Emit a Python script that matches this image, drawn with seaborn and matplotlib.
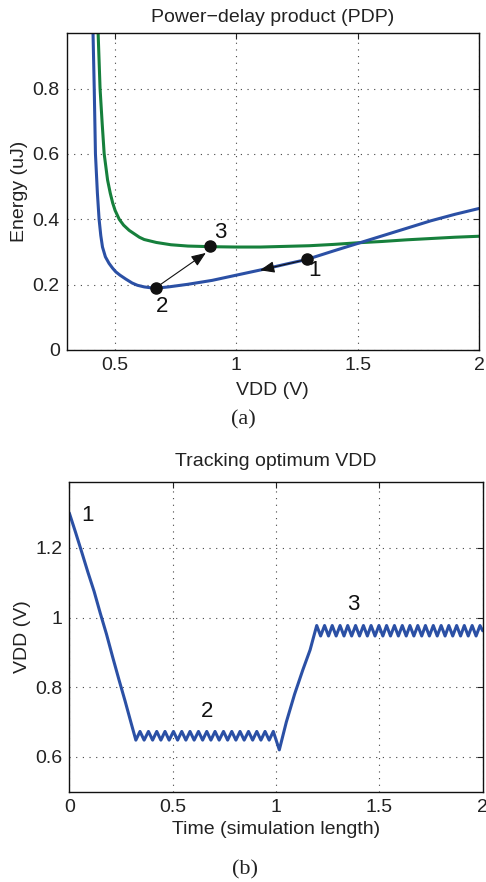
import matplotlib
matplotlib.use("Agg")
import matplotlib.pyplot as plt
import pandas as pd
import seaborn as sns

# ---- (a) power-delay product curves ----
vdd_blue = [0.409, 0.414, 0.419, 0.427, 0.434, 0.441, 0.448, 0.460, 0.475, 0.490,
            0.503, 0.520, 0.544, 0.570, 0.592, 0.620, 0.650, 0.680, 0.720, 0.800,
            0.900, 1.000, 1.100, 1.200, 1.290, 1.400, 1.500, 1.600, 1.700, 1.800,
            1.900, 2.000]
pdp_blue = [0.970, 0.800, 0.600, 0.480, 0.400, 0.350, 0.315, 0.285, 0.265, 0.250,
            0.239, 0.229, 0.217, 0.205, 0.198, 0.193, 0.190, 0.190, 0.193, 0.201,
            0.213, 0.229, 0.245, 0.262, 0.277, 0.303, 0.326, 0.349, 0.372, 0.395,
            0.415, 0.433]

vdd_green = [0.430, 0.438, 0.447, 0.455, 0.469, 0.480, 0.490, 0.500, 0.517, 0.535,
             0.558, 0.578, 0.600, 0.620, 0.670, 0.730, 0.800, 0.900, 1.000, 1.100,
             1.200, 1.300, 1.400, 1.500, 1.600, 1.700, 1.800, 1.900, 2.000]
pdp_green = [0.970, 0.800, 0.690, 0.600, 0.520, 0.480, 0.450, 0.427, 0.400, 0.382,
             0.366, 0.356, 0.345, 0.338, 0.329, 0.322, 0.318, 0.316, 0.315, 0.315,
             0.317, 0.319, 0.323, 0.328, 0.332, 0.337, 0.341, 0.345, 0.348]

pt_labels = ["1", "2", "3"]
pt_vdd = [1.290, 0.667, 0.891]
pt_pdp = [0.277, 0.190, 0.318]

# ---- (b) tracking VDD over time ----
time_b = [0.000, 0.030, 0.060, 0.090, 0.120, 0.150, 0.180, 0.210, 0.240, 0.270, 0.300,
          0.322, 0.342, 0.362, 0.383, 0.403, 0.423, 0.443, 0.463, 0.483, 0.504, 0.524,
          0.544, 0.564, 0.584, 0.604, 0.625, 0.645, 0.665, 0.685, 0.705, 0.725, 0.746,
          0.766, 0.786, 0.806, 0.826, 0.846, 0.867, 0.887, 0.907, 0.927, 0.947, 0.967,
          0.987, 1.016, 1.050, 1.090, 1.130, 1.165, 1.180,
          1.197, 1.216, 1.235, 1.254, 1.272, 1.291, 1.310, 1.329, 1.347, 1.366, 1.385,
          1.404, 1.423, 1.442, 1.460, 1.479, 1.498, 1.517, 1.535, 1.554, 1.573, 1.592,
          1.611, 1.630, 1.648, 1.667, 1.686, 1.705, 1.723, 1.742, 1.761, 1.780, 1.799,
          1.818, 1.836, 1.855, 1.874, 1.893, 1.911, 1.930, 1.949, 1.968, 1.987, 2.000]
vdd_b = [1.300, 1.245, 1.188, 1.130, 1.075, 1.012, 0.952, 0.886, 0.822, 0.760, 0.695,
         0.648, 0.673, 0.648, 0.673, 0.648, 0.673, 0.648, 0.673, 0.648, 0.673, 0.648,
         0.673, 0.648, 0.673, 0.648, 0.673, 0.648, 0.673, 0.648, 0.673, 0.648, 0.673,
         0.648, 0.673, 0.648, 0.673, 0.648, 0.673, 0.648, 0.673, 0.648, 0.673, 0.648,
         0.673, 0.620, 0.700, 0.780, 0.850, 0.907, 0.940,
         0.977, 0.947, 0.977, 0.947, 0.977, 0.947, 0.977, 0.947, 0.977, 0.947, 0.977,
         0.947, 0.977, 0.947, 0.977, 0.947, 0.977, 0.947, 0.977, 0.947, 0.977, 0.947,
         0.977, 0.947, 0.977, 0.947, 0.977, 0.947, 0.977, 0.947, 0.977, 0.947, 0.977,
         0.947, 0.977, 0.947, 0.977, 0.947, 0.977, 0.947, 0.977, 0.947, 0.977, 0.962]

b_labels = ["1", "2", "3"]
b_time = [0.087, 0.668, 1.374]
b_vdd = [1.294, 0.731, 1.038]

BLUE = "#2b50a5"
GREEN = "#16803c"

sns.set_style("white")
plt.rcParams["font.family"] = ["Liberation Sans", "DejaVu Sans"]
plt.rcParams["axes.unicode_minus"] = True

fig = plt.figure(figsize=(4.86, 8.82), dpi=100)
ax1 = fig.add_axes([0.137, 0.6032, 0.8486, 0.3594])
ax2 = fig.add_axes([0.1426, 0.1024, 0.8506, 0.3515])

df_blue = pd.DataFrame({"vdd": vdd_blue, "pdp": pdp_blue})
df_green = pd.DataFrame({"vdd": vdd_green, "pdp": pdp_green})
sns.lineplot(data=df_green, x="vdd", y="pdp", ax=ax1, color=GREEN, lw=2.2,
             estimator=None, sort=False)
sns.lineplot(data=df_blue, x="vdd", y="pdp", ax=ax1, color=BLUE, lw=2.2,
             estimator=None, sort=False)
ax1.plot(pt_vdd, pt_pdp, "o", color="#111111", ms=8, zorder=5)

# arrows 1 -> (down the blue curve) and 2 -> 3
arrow_kw = dict(arrowstyle="-|>,head_length=0.55,head_width=0.22", color="#111111",
                lw=0.8, mutation_scale=16, shrinkA=0, shrinkB=0)
ax1.annotate("", xy=(1.097, 0.244), xytext=(pt_vdd[0], pt_pdp[0]),
             arrowprops=arrow_kw, zorder=6)
ax1.annotate("", xy=(0.874, 0.297), xytext=(pt_vdd[1], pt_pdp[1]),
             arrowprops=arrow_kw, zorder=6)

lab_pos = [(1.322, 0.242), (0.692, 0.134), (0.935, 0.361)]
for lab, (x, y) in zip(pt_labels, lab_pos):
    ax1.text(x, y, lab, fontsize=16, ha="center", va="center", color="#111111")

ax1.set_xlim(0.3, 2.0)
ax1.set_ylim(0, 0.97)
ax1.set_xticks([0.5, 1, 1.5, 2])
ax1.set_xticklabels(["0.5", "1", "1.5", "2"])
ax1.set_yticks([0, 0.2, 0.4, 0.6, 0.8])
ax1.set_yticklabels(["0", "0.2", "0.4", "0.6", "0.8"])
ax1.set_title("Power\u2212delay product (PDP)", fontsize=14, pad=8, color="#222222")
ax1.set_xlabel("VDD (V)", fontsize=14, labelpad=6, color="#222222")
ax1.set_ylabel("Energy (uJ)", fontsize=14, labelpad=3, color="#222222")

df_b = pd.DataFrame({"t": time_b, "vdd": vdd_b})
sns.lineplot(data=df_b, x="t", y="vdd", ax=ax2, color=BLUE, lw=2.2,
             estimator=None, sort=False)
for lab, x, y in zip(b_labels, b_time, b_vdd):
    ax2.text(x, y, lab, fontsize=16, ha="center", va="center", color="#111111")
ax2.set_xlim(0, 2.0)
ax2.set_ylim(0.5, 1.39)
ax2.set_xticks([0, 0.5, 1, 1.5, 2])
ax2.set_xticklabels(["0", "0.5", "1", "1.5", "2"])
ax2.set_yticks([0.6, 0.8, 1.0, 1.2])
ax2.set_yticklabels(["0.6", "0.8", "1", "1.2"])
ax2.set_title("Tracking optimum VDD", fontsize=14, pad=11, color="#222222")
ax2.set_xlabel("Time (simulation length)", fontsize=14, labelpad=4, color="#222222")
ax2.set_ylabel("VDD (V)", fontsize=14, labelpad=3, color="#222222")

for ax in (ax1, ax2):
    ax.grid(True, color="#444444", linestyle=(0, (1, 5)), lw=0.8)
    ax.tick_params(direction="in", top=True, right=True, length=4, width=0.8,
                   labelsize=14, pad=5, colors="#222222")
    for sp in ax.spines.values():
        sp.set_visible(True)
        sp.set_color("#111111")
        sp.set_linewidth(1.0)

fig.text(0.5, 1 - 420 / 882, "(a)", fontsize=16, family="Liberation Serif",
         ha="center", va="center", color="#222222")
fig.text(0.504, 1 - 870 / 882, "(b)", fontsize=16, family="Liberation Serif",
         ha="center", va="center", color="#222222")

fig.savefig("out.png", dpi=100)
